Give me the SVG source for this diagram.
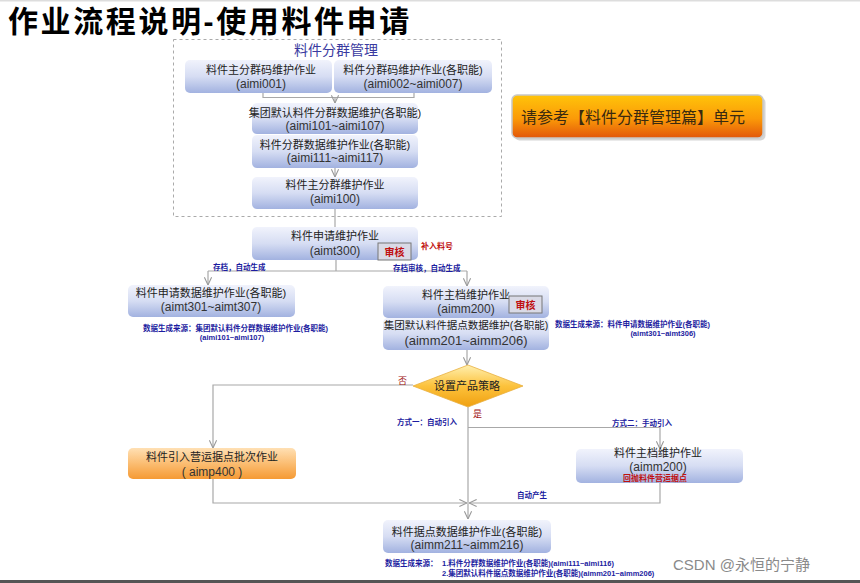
<svg xmlns="http://www.w3.org/2000/svg" width="860" height="583" viewBox="0 0 860 583">
<defs>
<linearGradient id="gBlue" x1="0" y1="0" x2="0" y2="1">
<stop offset="0" stop-color="#f1f3fc"/><stop offset="0.5" stop-color="#d6ddf3"/><stop offset="1" stop-color="#a2b2e0"/>
</linearGradient>
<linearGradient id="gOr" x1="0" y1="0" x2="0" y2="1">
<stop offset="0" stop-color="#ffe0b4"/><stop offset="0.5" stop-color="#fbbd72"/><stop offset="1" stop-color="#f59a34"/>
</linearGradient>
<linearGradient id="gDia" x1="0" y1="0" x2="0" y2="1">
<stop offset="0" stop-color="#fff0b0"/><stop offset="0.5" stop-color="#fcc23c"/><stop offset="1" stop-color="#f0a010"/>
</linearGradient>
<linearGradient id="gBtn" x1="0" y1="0" x2="0" y2="1">
<stop offset="0" stop-color="#ffc40a"/><stop offset="0.55" stop-color="#fb9a08"/><stop offset="1" stop-color="#e2560a"/>
</linearGradient>
<marker id="ah" viewBox="0 0 10 10" refX="9.5" refY="5" markerWidth="9" markerHeight="9" markerUnits="userSpaceOnUse" orient="auto">
<path d="M1,1 L9.5,5 L1,9" fill="none" stroke="#999" stroke-width="1.2"/>
</marker>
<style>
text{font-family:"Liberation Sans","Noto Sans CJK SC",sans-serif;}
.n{fill:url(#gBlue);}
.o{fill:url(#gOr);}
.t{font-size:11px;fill:#222;text-anchor:middle;}
.c{font-size:12px;fill:#333;text-anchor:middle;}
.b{font-size:7.5px;fill:#1c1ca0;font-weight:bold;}
.r{font-size:8px;fill:#c01010;font-weight:bold;}
.ln{fill:none;stroke:#a8a8a8;stroke-width:1.2;}
</style>
</defs>
<rect width="860" height="583" fill="#ffffff"/>
<rect x="0" y="0" width="860" height="1.5" fill="#dddddd"/>
<rect x="0" y="580" width="860" height="3" fill="#555555"/>
<text x="8" y="32" style="font-size:30px;font-weight:bold;fill:#000;letter-spacing:2.6px">作业流程说明-使用料件申请</text>

<g id="group-box">
<rect x="173.5" y="39.5" width="328" height="177" fill="none" stroke="#aaa" stroke-dasharray="3,3"/>
<text x="336" y="55" style="font-size:14px;fill:#3a3aa0;text-anchor:middle">料件分群管理</text>
</g>

<g id="connectors">
<path class="ln" d="M263,93 V97.5 H414 V93"/>
<path class="ln" d="M335,97.5 V103" marker-end="url(#ah)"/>
<path class="ln" d="M335,168 V177" marker-end="url(#ah)"/>
<path class="ln" d="M335,209 V227"/>
<path class="ln" d="M336,260 V271 M208,271 H467"/>
<path class="ln" d="M208,271 V285" marker-end="url(#ah)"/>
<path class="ln" d="M467,271 V286" marker-end="url(#ah)"/>
<path class="ln" d="M467,350 V365" marker-end="url(#ah)"/>
<path class="ln" d="M413,385 H213 V448" marker-end="url(#ah)"/>
<path class="ln" d="M468,407 V519" marker-end="url(#ah)"/>
<path class="ln" d="M468,427.5 H660 V449" marker-end="url(#ah)"/>
<path class="ln" d="M213,479 V503 H467" marker-end="url(#ah)"/>
<path class="ln" d="M660,483 V503 H469" marker-end="url(#ah)"/>
<text class="b" x="213" y="270">存档，自动生成</text>
<text class="b" x="393" y="271">存档审核，自动生成</text>
<text x="398" y="384" style="font-size:9px;fill:#a01010">否</text>
<text x="473" y="417" style="font-size:9px;fill:#a01010">是</text>
<text class="b" x="397" y="425">方式一：自动引入</text>
<text class="b" x="612" y="426">方式二：手动引入</text>
<text class="b" x="517" y="498">自动产生</text>
</g>

<g id="n-aimi001">
<rect class="n" x="185" y="60" width="147" height="33" rx="5"/>
<text class="t" x="261" y="74">料件主分群码维护作业</text>
<text class="c" x="261" y="88">(aimi001)</text>
</g>
<g id="n-aimi002">
<rect class="n" x="334" y="60" width="158" height="33" rx="5"/>
<text class="t" x="413" y="74">料件分群码维护作业(各职能)</text>
<text class="c" x="413" y="88">(aimi002~aimi007)</text>
</g>
<g id="n-aimi101">
<rect class="n" x="252" y="103" width="166" height="31" rx="5"/>
<text class="t" x="335" y="117">集团默认料件分群数据维护(各职能)</text>
<text class="c" x="335" y="130">(aimi101~aimi107)</text>
</g>
<g id="n-aimi111">
<rect class="n" x="252" y="135" width="166" height="33" rx="5"/>
<text class="t" x="335" y="149">料件分群数据维护作业(各职能)</text>
<text class="c" x="335" y="162">(aimi111~aimi117)</text>
</g>
<g id="n-aimi100">
<rect class="n" x="252" y="177" width="166" height="32" rx="5"/>
<text class="t" x="335" y="189">料件主分群维护作业</text>
<text class="c" x="335" y="203">(aimi100)</text>
</g>
<g id="n-aimt300">
<rect class="n" x="252" y="227" width="166" height="33" rx="5"/>
<text class="t" x="335" y="240">料件申请维护作业</text>
<text class="c" x="335" y="255">(aimt300)</text>
<rect x="378" y="243" width="33" height="17" fill="#d9dae6" stroke="#777" stroke-width="1"/>
<text x="394.5" y="255.5" style="font-size:10px;font-weight:bold;fill:#c01010;text-anchor:middle">审核</text>
<text class="r" x="421" y="249">补入料号</text>
</g>
<g id="n-aimt301">
<rect class="n" x="128" y="285" width="167" height="32" rx="5"/>
<text class="t" x="211" y="297">料件申请数据维护作业(各职能)</text>
<text class="c" x="211" y="311">(aimt301~aimt307)</text>
<text class="b" x="143" y="331">数据生成来源：集团默认料件分群数据维护作业(各职能)</text>
<text class="b" x="232" y="340" text-anchor="middle">(aimi101~aimi107)</text>
</g>
<g id="n-aimm200a">
<rect class="n" x="383" y="286" width="166" height="32" rx="5"/>
<text class="t" x="466" y="299">料件主档维护作业</text>
<text class="c" x="466" y="313">(aimm200)</text>
<rect x="509" y="296" width="33" height="17" fill="#d9dae6" stroke="#777" stroke-width="1"/>
<text x="525.5" y="308.5" style="font-size:10px;font-weight:bold;fill:#c01010;text-anchor:middle">审核</text>
</g>
<g id="n-aimm201">
<rect class="n" x="383" y="318" width="166" height="32" rx="5"/>
<text class="t" x="466" y="329" style="font-size:10.5px">集团默认料件据点数据维护(各职能)</text>
<text class="c" x="466" y="345" style="font-size:13px">(aimm201~aimm206)</text>
<text class="b" x="555" y="327">数据生成来源：料件申请数据维护作业(各职能)</text>
<text class="b" x="663" y="336" text-anchor="middle">(aimt301~aimt306)</text>
</g>
<g id="n-strategy">
<polygon points="413,386 468,365 523,386 468,407" fill="url(#gDia)" stroke="#e8b040" stroke-width="0.8"/>
<text x="467" y="390" style="font-size:11px;fill:#222;text-anchor:middle">设置产品策略</text>
</g>
<g id="n-aimp400">
<rect class="o" x="128" y="448" width="168" height="31" rx="5"/>
<text class="t" x="212" y="461">料件引入营运据点批次作业</text>
<text class="c" x="212" y="476">( aimp400 )</text>
</g>
<g id="n-aimm200b">
<rect class="n" x="576" y="449" width="167" height="34" rx="5"/>
<text class="t" x="658" y="457">料件主档维护作业</text>
<text class="c" x="658" y="471">(aimm200)</text>
<text class="r" x="655" y="481" text-anchor="middle">回抛料件营运据点</text>
</g>
<g id="n-aimm211">
<rect class="n" x="383" y="520" width="168" height="33" rx="5"/>
<text class="t" x="467" y="536">料件据点数据维护作业(各职能)</text>
<text class="c" x="467" y="549">(aimm211~aimm216)</text>
<text class="b" x="385" y="566">数据生成来源：</text>
<text class="b" x="442" y="566">1.料件分群数据维护作业(各职能)(aimi111~aimi116)</text>
<text class="b" x="442" y="576">2.集团默认料件据点数据维护作业(各职能)(aimm201~aimm206)</text>
</g>
<g id="n-ref">
<rect x="513" y="96" width="251" height="43" rx="5" fill="#888" opacity="0.35" transform="translate(1.5,1.5)"/>
<rect x="512" y="95" width="251" height="43" rx="5" fill="url(#gBtn)" stroke="#c8c8c8" stroke-width="1.5"/>
<text x="521" y="123" style="font-size:16px;fill:#3a2a10">请参考【料件分群管理篇】单元</text>
</g>
<text x="673" y="570" style="font-size:15px;fill:#8a8a8a">CSDN @永恒的宁静</text>
</svg>
